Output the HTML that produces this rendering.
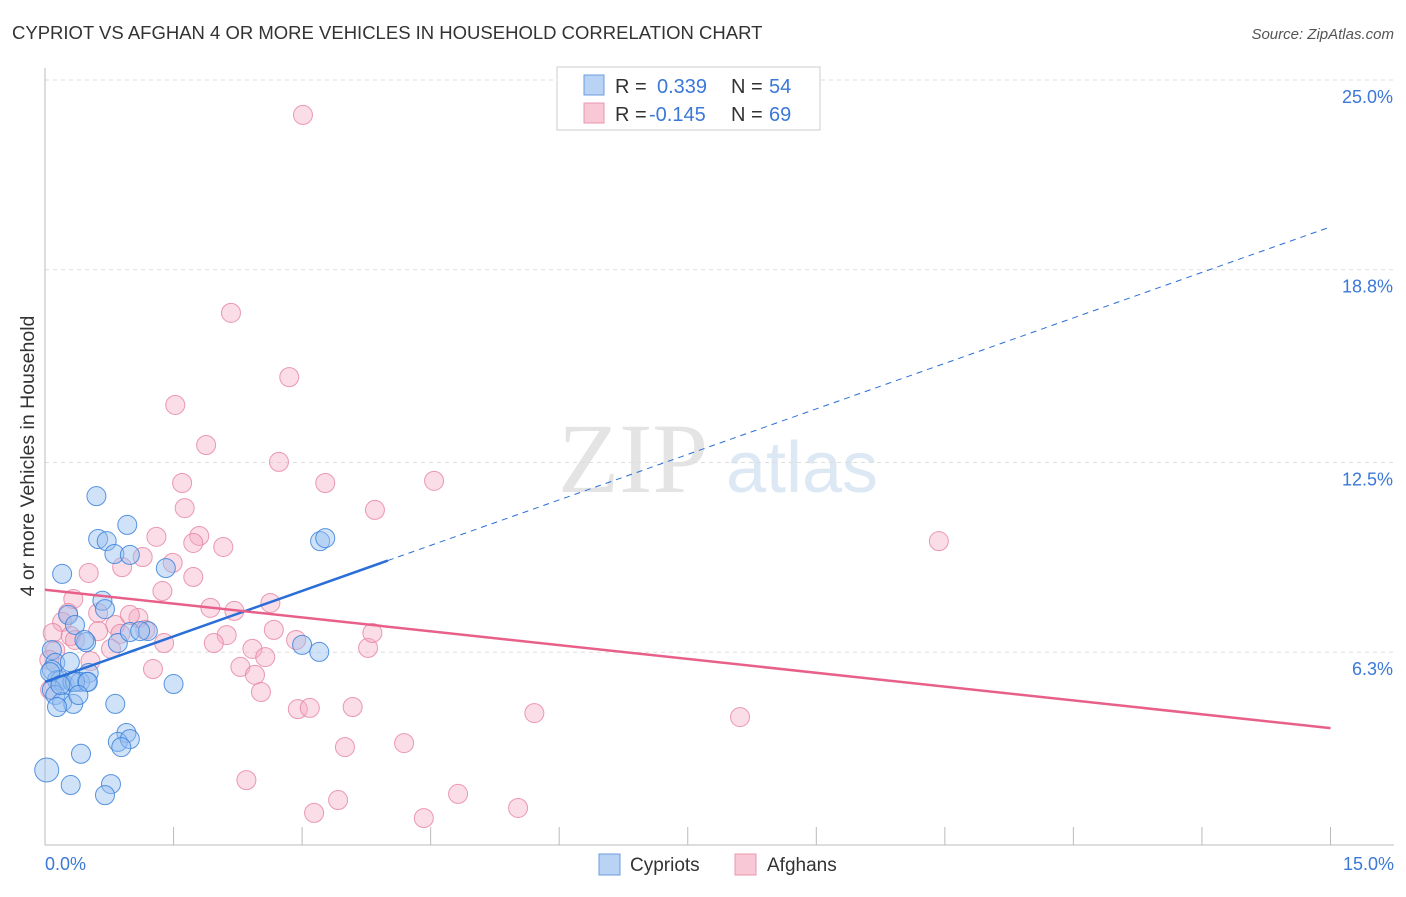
<!DOCTYPE html>
<html><head><meta charset="utf-8"><style>
body{margin:0;background:#fff;font-family:"Liberation Sans",sans-serif;}
</style></head><body>
<svg width="1406" height="892" xmlns="http://www.w3.org/2000/svg" font-family="Liberation Sans, sans-serif">
<text x="12" y="39" font-size="18.5" fill="#333">CYPRIOT VS AFGHAN 4 OR MORE VEHICLES IN HOUSEHOLD CORRELATION CHART</text>
<text x="1394" y="39" font-size="15" fill="#555" font-style="italic" text-anchor="end">Source: ZipAtlas.com</text>
<text x="633" y="492" font-size="100" fill="#e4e4e4" font-family="Liberation Serif, serif" text-anchor="middle">ZIP</text>
<text x="802" y="492" font-size="72" fill="#dde8f5" text-anchor="middle">atlas</text>
<g id="grid"></g>
<line x1="45" y1="68" x2="45" y2="845" stroke="#bbb"/>
<line x1="45" y1="845" x2="1394" y2="845" stroke="#bbb"/>
<g id="xt"></g>
<text x="34" y="456" font-size="19.5" fill="#333" transform="rotate(-90 34 456)" text-anchor="middle">4 or more Vehicles in Household</text>
<text x="45" y="870" font-size="18" fill="#3b78d8">0.0%</text>
<text x="1394" y="870" font-size="18" fill="#3b78d8" text-anchor="end">15.0%</text>
<g id="pts"></g>
<g id="lines"></g>
<g>
<rect x="557" y="67" width="263" height="63" fill="#fff" stroke="#ccc"/>
<rect x="584" y="75" width="20" height="20" fill="#b9d3f5" stroke="#6a9be0"/>
<rect x="584" y="103" width="20" height="20" fill="#f9c8d6" stroke="#e897ae"/>
<text x="615" y="93" font-size="20" fill="#333">R = <tspan x="657" fill="#3b78d8">0.339</tspan><tspan x="731">N = </tspan><tspan x="769" fill="#3b78d8">54</tspan></text>
<text x="615" y="121" font-size="20" fill="#333">R = <tspan x="649" fill="#3b78d8">-0.145</tspan><tspan x="731">N = </tspan><tspan x="769" fill="#3b78d8">69</tspan></text>
</g>
<g>
<rect x="599" y="854" width="21" height="21" fill="#b9d3f5" stroke="#6a9be0"/>
<text x="630" y="871" font-size="19" fill="#333">Cypriots</text>
<rect x="735" y="854" width="21" height="21" fill="#f9c8d6" stroke="#e897ae"/>
<text x="767" y="871" font-size="19" fill="#333">Afghans</text>
</g>
</svg>
<script>
const yTicks=[25.0,18.8,12.5,6.3];
const yTickLabels=["25.0%","18.8%","12.5%","6.3%"];
const cypX=[0.02,0.2,0.6,0.62,0.72,0.96,0.81,0.99,1.41,3.21,3.27,0.67,0.7,0.27,0.35,0.48,0.46,0.85,0.99,1.2,0.08,0.12,0.29,0.51,0.08,0.14,0.18,0.23,0.32,0.41,0.49,0.08,0.12,0.2,0.33,0.14,1.5,0.82,3.0,3.2,0.95,0.85,0.99,0.89,0.42,0.3,0.77,0.7,0.35,0.06,0.18,0.5,0.39,1.11];
const cypY=[2.45,8.86,11.4,10.0,9.93,10.46,9.51,9.48,9.05,9.93,10.03,7.98,7.71,7.52,7.19,6.63,6.7,6.6,6.96,6.99,6.37,5.95,5.98,5.62,5.72,5.39,5.39,5.23,5.33,5.33,5.33,5.07,4.9,4.67,4.61,4.51,5.26,4.61,6.54,6.31,3.66,3.37,3.46,3.2,2.98,1.96,1.99,1.63,5.33,5.65,5.23,5.33,4.9,6.99];
const afgX=[3.01,2.17,2.85,1.52,1.88,2.73,1.6,3.27,4.54,1.63,3.85,10.43,1.3,1.8,1.73,2.08,1.14,0.51,0.9,1.49,0.33,1.73,1.37,0.27,1.93,2.21,2.63,0.62,1.09,0.2,0.82,0.09,0.3,0.62,1.17,0.88,0.35,2.67,2.12,1.39,1.97,2.93,3.77,3.82,2.42,0.12,0.77,2.57,2.28,2.45,1.26,2.52,2.95,3.09,3.59,5.71,8.11,3.5,4.19,2.35,4.82,3.42,3.14,5.52,4.42,0.05,0.06,0.99,0.53];
const afgY=[23.86,17.39,15.29,14.38,13.07,12.52,11.83,11.83,11.9,11.01,10.95,9.93,10.07,10.1,9.87,9.74,9.41,8.89,9.08,9.22,8.04,8.76,8.3,7.58,7.75,7.65,7.91,7.58,7.42,7.29,7.19,6.93,6.83,6.99,7.03,6.9,6.7,7.03,6.86,6.6,6.6,6.7,6.44,6.93,6.41,6.37,6.41,6.14,5.82,5.56,5.75,5.0,4.44,4.48,4.51,4.31,4.18,3.2,3.33,2.12,1.67,1.47,1.05,1.21,0.88,6.05,5.07,7.52,6.01];
const blueTrend={x0:0,y0:5.33,x1:15,y1:20.2,solidEnd:4.0};
const pinkTrend={x0:0,y0:8.34,x1:15,y1:3.82};
const NS="http://www.w3.org/2000/svg";
const sx=v=>45+v*85.7, sy=v=>845-v*30.6;
function mk(t,a,p){const e=document.createElementNS(NS,t);for(const k in a)e.setAttribute(k,a[k]);p.appendChild(e);return e;}
const grid=document.getElementById('grid');
yTicks.forEach((t,i)=>{
 const l=mk('line',{x1:45,x2:1394,y1:sy(t),y2:sy(t),stroke:'#ddd','stroke-dasharray':'4,4'},grid);
 
 
 const tx=mk('text',{x:1393,y:sy(t)+23,'font-size':18,fill:'#3b78d8','text-anchor':'end'},grid);
 tx.textContent=yTickLabels[i];
 
 
});
const xt=document.getElementById('xt');
for(let i=1;i<=10;i++){const x=sx(i*1.5);
 const l=mk('line',{x1:x,x2:x,y1:827,y2:845,stroke:'#bbb'},xt);
 
 }
const pts=document.getElementById('pts');
afgX.forEach((x,i)=>{const c=mk('circle',{cx:sx(x),cy:sy(afgY[i]),r:9.5,fill:'rgba(246,170,195,0.4)',stroke:'rgba(230,130,160,0.8)','stroke-width':1},pts);
 
 });
cypX.forEach((x,i)=>{const r=i==0?12:9.5;const c=mk('circle',{cx:sx(x),cy:sy(cypY[i]),r:r,fill:'rgba(150,190,240,0.45)',stroke:'rgba(60,130,220,0.85)','stroke-width':1},pts);
 
 });
const lines=document.getElementById('lines');
const b=blueTrend, by=x=>b.y0+(b.y1-b.y0)*(x-b.x0)/(b.x1-b.x0);
let l1=mk('line',{x1:sx(b.x0),y1:sy(b.y0),x2:sx(b.solidEnd),y2:sy(by(b.solidEnd)),stroke:'#2a6ed8','stroke-width':2.5},lines);


let l2=mk('line',{x1:sx(b.solidEnd),y1:sy(by(b.solidEnd)),x2:sx(b.x1),y2:sy(b.y1),stroke:'#2a6ed8','stroke-width':1,'stroke-dasharray':'6,5'},lines);


let l3=mk('line',{x1:sx(pinkTrend.x0),y1:sy(pinkTrend.y0),x2:sx(pinkTrend.x1),y2:sy(pinkTrend.y1),stroke:'#e8608a','stroke-width':2.5},lines);


</script>
</body></html>
